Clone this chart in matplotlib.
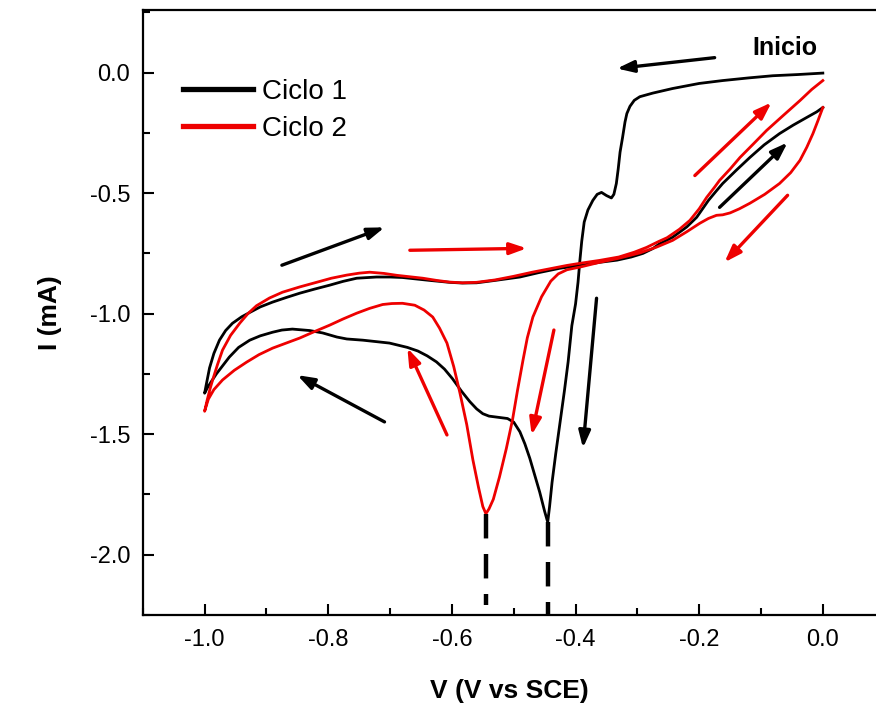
import matplotlib
matplotlib.use("Agg")
import matplotlib.pyplot as plt
from matplotlib.lines import Line2D
from matplotlib.ticker import MultipleLocator, FormatStrFormatter

plt.rcParams['font.family'] = ['Liberation Sans', 'DejaVu Sans']
plt.rcParams['axes.unicode_minus'] = False

# ---- Ciclo 1 (black) ----
c1_v = [0.000, -0.040, -0.081, -0.120, -0.162, -0.200, -0.243, -0.275, -0.296, -0.305,
        -0.312, -0.317, -0.320, -0.324, -0.328, -0.331, -0.334, -0.338, -0.342, -0.350,
        -0.358, -0.365, -0.372, -0.380, -0.386, -0.390, -0.393, -0.396, -0.400, -0.406,
        -0.412, -0.418, -0.425, -0.432, -0.438, -0.442, -0.445,
        -0.450, -0.458, -0.466, -0.474, -0.482, -0.490, -0.500, -0.510, -0.525, -0.540,
        -0.550, -0.560, -0.571, -0.585, -0.599, -0.612, -0.625, -0.640, -0.655, -0.672,
        -0.701, -0.744, -0.770, -0.786, -0.809, -0.830, -0.858, -0.875, -0.890, -0.910,
        -0.927, -0.945, -0.960, -0.972, -0.981, -0.990, -0.995, -1.000,
        -0.997, -0.992, -0.985, -0.976, -0.966, -0.955, -0.940, -0.927, -0.910, -0.890,
        -0.868, -0.846, -0.822, -0.798, -0.776, -0.754, -0.722, -0.700, -0.680, -0.658,
        -0.636, -0.604, -0.583, -0.560, -0.530, -0.490, -0.460, -0.426, -0.393, -0.361,
        -0.333, -0.310, -0.291, -0.275, -0.264, -0.243, -0.220, -0.204, -0.185, -0.172,
        -0.162, -0.140, -0.118, -0.095, -0.070, -0.048, -0.026, -0.010, 0.000]
c1_i = [-0.002, -0.008, -0.013, -0.022, -0.033, -0.045, -0.066, -0.085, -0.100, -0.115,
        -0.140, -0.170, -0.205, -0.270, -0.330, -0.400, -0.460, -0.505, -0.520, -0.510,
        -0.497, -0.505, -0.530, -0.570, -0.620, -0.700, -0.780, -0.870, -0.960, -1.050,
        -1.200, -1.320, -1.450, -1.580, -1.700, -1.800, -1.865,
        -1.820, -1.740, -1.670, -1.600, -1.540, -1.490, -1.450, -1.435, -1.430, -1.425,
        -1.415, -1.395, -1.365, -1.320, -1.270, -1.230, -1.200, -1.175, -1.155, -1.140,
        -1.122, -1.110, -1.105, -1.097, -1.080, -1.070, -1.064, -1.068, -1.077, -1.092,
        -1.110, -1.140, -1.180, -1.220, -1.250, -1.285, -1.305, -1.330,
        -1.290, -1.225, -1.165, -1.110, -1.070, -1.040, -1.013, -0.995, -0.972, -0.952,
        -0.933, -0.915, -0.898, -0.882, -0.866, -0.853, -0.848, -0.848, -0.850, -0.856,
        -0.862, -0.870, -0.873, -0.872, -0.862, -0.848, -0.830, -0.812, -0.800, -0.787,
        -0.778, -0.765, -0.750, -0.730, -0.710, -0.683, -0.640, -0.600, -0.530, -0.490,
        -0.460, -0.405, -0.352, -0.300, -0.253, -0.218, -0.186, -0.163, -0.145]

# ---- Ciclo 2 (red) ----
c2_v = [0.000, -0.008, -0.016, -0.026, -0.037, -0.052, -0.070, -0.094, -0.118, -0.135,
        -0.150, -0.162, -0.172, -0.185, -0.199, -0.220, -0.243, -0.270, -0.296, -0.330,
        -0.361, -0.390, -0.414, -0.428, -0.440, -0.455, -0.469, -0.478, -0.485, -0.494,
        -0.502, -0.512, -0.523, -0.533, -0.540, -0.545,
        -0.550, -0.557, -0.566, -0.576, -0.587, -0.597, -0.608, -0.620, -0.631, -0.645,
        -0.660, -0.680, -0.697, -0.712, -0.733, -0.754, -0.776, -0.798, -0.822, -0.846,
        -0.868, -0.890, -0.912, -0.932, -0.952, -0.971, -0.985, -0.994, -1.000,
        -0.996, -0.991, -0.987, -0.979, -0.971, -0.958, -0.943, -0.930, -0.916, -0.895,
        -0.874, -0.846, -0.819, -0.795, -0.770, -0.750, -0.733, -0.710, -0.689, -0.668,
        -0.647, -0.625, -0.604, -0.583, -0.560, -0.530, -0.500, -0.470, -0.440, -0.414,
        -0.390, -0.361, -0.330, -0.305, -0.285, -0.265, -0.252, -0.232, -0.215, -0.200,
        -0.188, -0.175, -0.167, -0.150, -0.134, -0.112, -0.091, -0.065, -0.037, -0.018, 0.000]
c2_i = [-0.145, -0.200, -0.253, -0.310, -0.364, -0.415, -0.460, -0.505, -0.542, -0.565,
        -0.582, -0.590, -0.592, -0.605, -0.625, -0.660, -0.696, -0.725, -0.748, -0.770,
        -0.787, -0.805, -0.818, -0.835, -0.865, -0.930, -1.014, -1.100, -1.193, -1.320,
        -1.441, -1.560, -1.677, -1.770, -1.810, -1.830,
        -1.800, -1.720, -1.607, -1.460, -1.329, -1.220, -1.122, -1.060, -1.014, -0.985,
        -0.965, -0.957, -0.958, -0.962, -0.978, -0.998, -1.022, -1.048, -1.074, -1.101,
        -1.122, -1.143, -1.170, -1.201, -1.235, -1.275, -1.315, -1.355, -1.405,
        -1.360, -1.310, -1.275, -1.210, -1.151, -1.090, -1.039, -1.000, -0.967, -0.935,
        -0.911, -0.889, -0.870, -0.853, -0.840, -0.832, -0.828, -0.833, -0.841, -0.847,
        -0.853, -0.862, -0.869, -0.872, -0.870, -0.860, -0.845, -0.828, -0.813, -0.800,
        -0.790, -0.779, -0.765, -0.745, -0.725, -0.700, -0.685, -0.650, -0.613, -0.565,
        -0.518, -0.475, -0.447, -0.400, -0.352, -0.295, -0.240, -0.180, -0.116, -0.070, -0.033]

# peaks marked with dashed drop lines
peak_v = [-0.545, -0.445]
peak_i = [-1.830, -1.865]
peak_end = [-2.21, -2.25]
peak_colors = ['black', 'black']

# direction arrows: (tail_v, tail_i, tip_v, tip_i, colour)
arrows = [
    (-0.175, 0.062, -0.333, 0.017, 'black'),
    (-0.875, -0.799, -0.709, -0.642, 'black'),
    (-0.668, -0.737, -0.479, -0.729, 'red'),
    (-0.207, -0.427, -0.083, -0.124, 'red'),
    (-0.167, -0.559, -0.057, -0.290, 'black'),
    (-0.057, -0.509, -0.159, -0.787, 'red'),
    (-0.366, -0.936, -0.388, -1.557, 'black'),
    (-0.435, -1.068, -0.471, -1.503, 'red'),
    (-0.608, -1.503, -0.672, -1.143, 'red'),
    (-0.709, -1.449, -0.850, -1.255, 'black'),
]

RED = '#ee0000'
fig = plt.figure(figsize=(8.76, 7.09), dpi=100)
ax = fig.add_axes([0.163, 0.1326, 0.837, 0.8534])

ax.plot(c1_v, c1_i, color='black', lw=2.0, solid_joinstyle='round')
ax.plot(c2_v, c2_i, color=RED, lw=2.0, solid_joinstyle='round')

ymin, ymax = -2.25, 0.26
for pv, pi, pe, pc in zip(peak_v, peak_i, peak_end, peak_colors):
    ax.plot([pv, pv], [pi, pe], color=pc, lw=3.2, ls=(0, (5.5, 3.5)))

for tv, ti, hv, hi, col in arrows:
    c = RED if col == 'red' else 'black'
    ax.annotate('', xy=(hv, hi), xytext=(tv, ti),
                arrowprops=dict(arrowstyle='-|>,head_length=1.0,head_width=0.35',
                                color=c, lw=2.4, shrinkA=0, shrinkB=0))

ax.text(-0.061, 0.103, 'Inicio', fontsize=18, fontweight='bold', ha='center', va='center')

ax.set_xlim(-1.1, 0.086)
ax.set_ylim(ymin, ymax)
ax.xaxis.set_major_locator(MultipleLocator(0.2))
ax.xaxis.set_minor_locator(MultipleLocator(0.1))
ax.yaxis.set_major_locator(MultipleLocator(0.5))
ax.yaxis.set_minor_locator(MultipleLocator(0.25))
ax.xaxis.set_major_formatter(FormatStrFormatter('%.1f'))
ax.yaxis.set_major_formatter(FormatStrFormatter('%.1f'))
ax.set_xticks([-1.0, -0.8, -0.6, -0.4, -0.2, 0.0])
ax.tick_params(which='both', direction='in', top=False, right=False, width=1.5, labelsize=17)
ax.tick_params(axis='x', pad=10)
ax.tick_params(axis='y', pad=9)
ax.tick_params(which='major', length=8)
ax.tick_params(which='minor', length=5)
for s in ['left', 'bottom', 'top']:
    ax.spines[s].set_linewidth(1.6)
ax.spines['right'].set_visible(False)

ax.set_xlabel('V (V vs SCE)', fontsize=19, fontweight='bold', labelpad=20)
ax.set_ylabel('I (mA)', fontsize=19, fontweight='bold', labelpad=20)

handles = [Line2D([], [], color='black', lw=3.8), Line2D([], [], color=RED, lw=3.8)]
ax.legend(handles, ['Ciclo 1', 'Ciclo 2'], loc='upper left', frameon=False, fontsize=20,
          handlelength=2.5, handletextpad=0.35, labelspacing=0.4,
          bbox_to_anchor=(0.04, 0.905), borderaxespad=0)

fig.savefig('out.png', dpi=100)
